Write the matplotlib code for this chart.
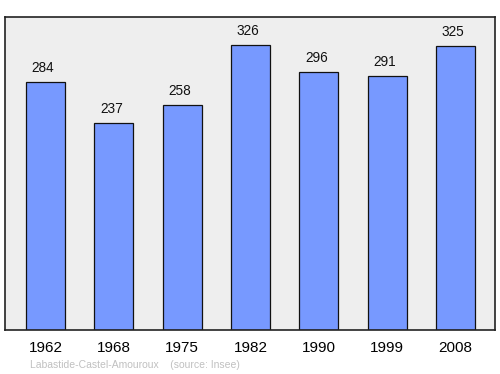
import matplotlib
matplotlib.use("Agg")
import matplotlib.pyplot as plt

plt.rcParams['font.family'] = ['Liberation Sans', 'DejaVu Sans']

years = ["1962", "1968", "1975", "1982", "1990", "1999", "2008"]
population = [284, 237, 258, 326, 296, 291, 325]
caption_name = "Labastide-Castel-Amouroux"
caption_source = "(source: Insee)"

fig = plt.figure(figsize=(5.0, 3.74), dpi=100)
W, H = 500, 374
ax = fig.add_axes([5 / W, 1 - 330 / H, 490 / W, 313 / H])
ax.set_facecolor("#eeeeee")
x = list(range(len(years)))
ax.bar(x, population, width=0.57, color="#7799ff", edgecolor="#111111", linewidth=0.9)
for xi, v in zip(x, population):
    ax.annotate(str(v), (xi, v), xytext=(-1.8, 10), textcoords="offset points",
                ha="center", va="center", fontsize=9.8, color="#111111")
ax.set_xlim(-0.593, 6.58)
ax.set_ylim(0, 358.5)
ax.set_yticks([])
ax.set_xticks(x)
ax.set_xticklabels(years, fontsize=11)
ax.tick_params(axis="x", length=0, pad=8)
for s in ax.spines.values():
    s.set_linewidth(1.2)
    s.set_color("#222222")
fig.text(30 / W, 1 - 365 / H, caption_name + "    " + caption_source,
         fontsize=7.5, color="#c0c0c0", ha="left", va="center")
fig.savefig("out.png", dpi=100)
